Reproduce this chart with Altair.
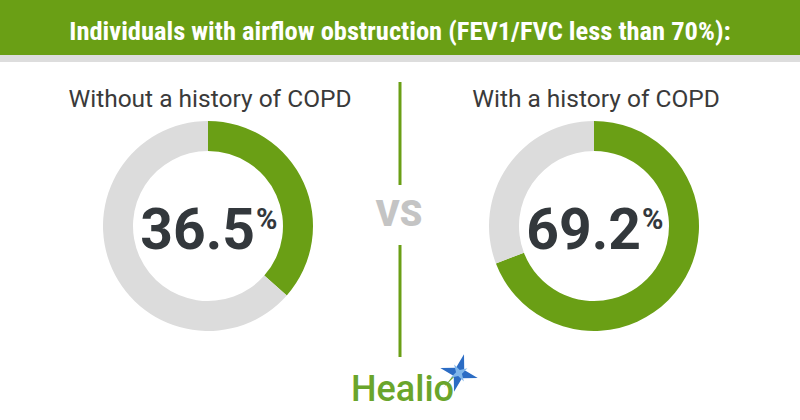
import altair as alt
import pandas as pd

# ---- data ----
title_text = "Individuals with airflow obstruction (FEV1/FVC less than 70%):"
groups = ["Without a history of COPD", "With a history of COPD"]
percents = [36.5, 69.2]
segments = ["obstruction", "no obstruction"]
vs_label = "VS"
brand = "Healio"

# ---- style ----
GREEN = "#6a9f15"
GRAY = "#dcdcdc"
DARK = "#33383c"
W, H = 800, 420
CX = [208, 594]
CY = 226
R_OUT, R_IN = 105, 75
FONT = "Roboto"
COND = "Roboto Condensed, DejaVu Sans Condensed, Roboto"

one = pd.DataFrame({"k": [0]})

header = alt.Chart(one).mark_rect(color=GREEN).encode(
    x=alt.value(0), x2=alt.value(W), y=alt.value(0), y2=alt.value(55))
band = alt.Chart(one).mark_rect(color="#dddddd").encode(
    x=alt.value(0), x2=alt.value(W), y=alt.value(55), y2=alt.value(62))
title = alt.Chart(pd.DataFrame({"t": [title_text]})).mark_text(
    font=COND, fontSize=26.5, fontWeight="bold", color="white", align="center", baseline="alphabetic"
).encode(text="t:N", x=alt.value(400), y=alt.value(40))

layers = [header, band, title]

for i, (g, p) in enumerate(zip(groups, percents)):
    df = pd.DataFrame({"segment": segments, "value": [p, 100 - p], "ord": [0, 1]})
    arc = alt.Chart(df).mark_arc(innerRadius=R_IN, outerRadius=R_OUT).encode(
        theta=alt.Theta("value:Q", stack=True, scale=alt.Scale(domain=[0, 100])),
        color=alt.Color("segment:N", scale=alt.Scale(domain=segments, range=[GREEN, GRAY]), legend=None),
        order=alt.Order("ord:Q"),
        x=alt.value(CX[i]), y=alt.value(CY),
    )
    sub = alt.Chart(pd.DataFrame({"t": [g]})).mark_text(
        font=FONT, fontSize=24.5, color="#3a3a3a", align="center", baseline="alphabetic"
    ).encode(text="t:N", x=alt.value(CX[i] + 2), y=alt.value(107))
    num = alt.Chart(pd.DataFrame({"v": [p]})).mark_text(
        font=FONT, fontSize=57, fontWeight="bold", color=DARK, align="right", baseline="alphabetic"
    ).encode(text=alt.Text("v:Q", format=".1f"), x=alt.value(CX[i] + 47), y=alt.value(249))
    pct = alt.Chart(pd.DataFrame({"t": ["%"]})).mark_text(
        font=FONT, fontSize=29, fontWeight="bold", color=DARK, align="left", baseline="alphabetic"
    ).encode(text="t:N", x=alt.value(CX[i] + 48), y=alt.value(229))
    layers += [arc, sub, num, pct]

line1 = alt.Chart(one).mark_rule(color=GREEN, strokeWidth=3).encode(
    x=alt.value(400), y=alt.value(82), y2=alt.value(185))
line2 = alt.Chart(one).mark_rule(color=GREEN, strokeWidth=3).encode(
    x=alt.value(400), y=alt.value(245), y2=alt.value(357))
vs = alt.Chart(pd.DataFrame({"t": [vs_label]})).mark_text(
    font=FONT, fontSize=36, fontWeight=900, color="#c4c4c4", align="center", baseline="alphabetic"
).encode(text="t:N", x=alt.value(399), y=alt.value(226))
logo = alt.Chart(pd.DataFrame({"t": [brand]})).mark_text(
    font=FONT, fontSize=36, fontWeight=500, color="#6aa52b", align="left", baseline="alphabetic"
).encode(text="t:N", x=alt.value(351), y=alt.value(401))
star_path = "M0,-1 L0.22,-0.22 L1,0 L0.22,0.22 L0,1 L-0.22,0.22 L-1,0 L-0.22,-0.22 Z"
tri_path = "M-1,1 L0.3,-0.3 L-0.2,0 Z"
tri = alt.Chart(one).mark_point(shape=tri_path, filled=True, color="#6aa52b", size=500, opacity=1).encode(
    x=alt.value(455), y=alt.value(376))
star = alt.Chart(one).mark_point(shape=star_path, filled=True, color="#2b6cc4", size=1500, opacity=1, angle=15).encode(
    x=alt.value(459), y=alt.value(373))
star2 = alt.Chart(one).mark_point(shape=star_path, filled=True, color="#7fb6ea", size=380, opacity=1, angle=60).encode(
    x=alt.value(459), y=alt.value(373))

layers += [line1, line2, vs, logo, tri, star, star2]

chart = alt.layer(*layers).properties(
    width=W, height=H, padding=0, autosize=alt.AutoSizeParams(type="none"), background="white"
).configure_view(stroke=None)

chart.save("out.html", embed_options={"renderer": "svg", "actions": False})
